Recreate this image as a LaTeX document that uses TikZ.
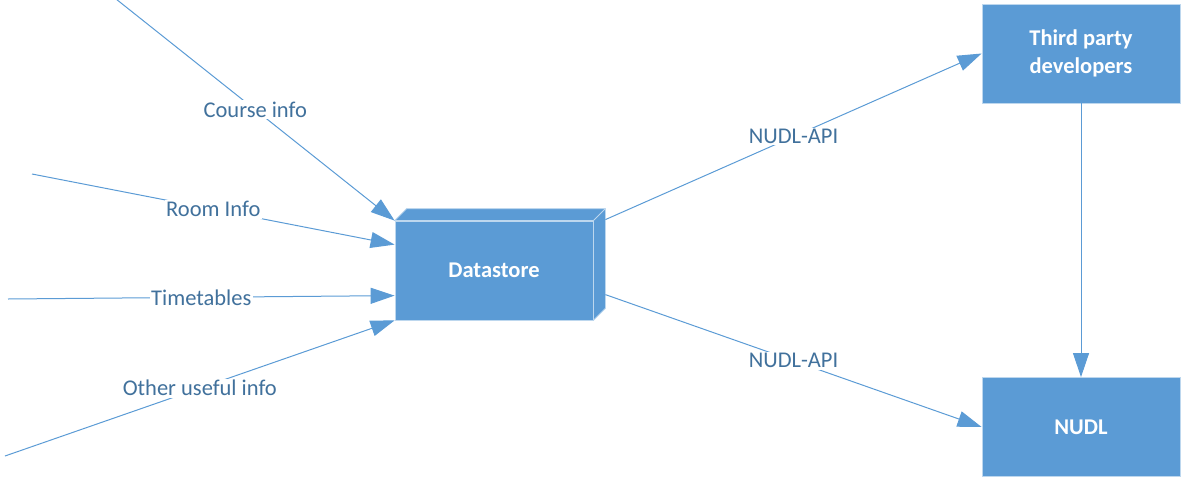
\documentclass[tikz,border=0pt]{standalone}
\usepackage{fontspec}
\setmainfont{Carlito}
\usetikzlibrary{arrows.meta,calc}
\definecolor{boxblue}{RGB}{91,155,213}
\definecolor{edgeblue}{RGB}{189,215,238}
\definecolor{lineblue}{RGB}{91,155,213}
\definecolor{txtblue}{RGB}{65,113,156}
\begin{document}
\begin{tikzpicture}[x=1pt,y=-1pt,
  box/.style={fill=boxblue,draw=edgeblue,line width=0.8pt,text=white,
    font=\fontsize{22.5}{28}\selectfont\bfseries,align=center,
    minimum width=198pt,minimum height=99pt,inner sep=0pt},
  flow/.style={draw=lineblue,line width=1pt,-{Triangle[length=24pt,width=16pt]}},
  lbl/.style={fill=white,text=txtblue,font=\fontsize{22.5}{26}\selectfont,inner sep=1.5pt,midway}]
\useasboundingbox (0,0) rectangle (1185,479);
% nodes
\node[box] (tp) at (1081,53.5) {Third party\\developers};
\node[box] (nudl) at (1081,427) {NUDL};
\node[box] (ds) at (494,270.5) {Datastore};
\draw[fill=boxblue,draw=edgeblue,line width=0.8pt,line join=round]
  (ds.north west) -- ++(12,-12) -- ($(ds.north east)+(12,-12)$) -- ($(ds.south east)+(12,-12)$)
  -- (ds.south east) -- (ds.north east) -- cycle;
\draw[edgeblue,line width=0.8pt] (ds.north east) -- ++(12,-12);
% free ends
\coordinate (s1) at (116,-1);
\coordinate (s2) at (32,174);
\coordinate (s3) at (8,299);
\coordinate (s4) at (5,456);
\coordinate (e2) at ($(ds.north west)+(0,24)$);
\coordinate (e3) at ($(ds.north west)+(0,75)$);
\coordinate (o1) at ($(ds.north east)+(12,-1)$);
\coordinate (o2) at ($(ds.north east)+(12,74)$);
% connectors
\draw[flow] (s1) -- node[lbl]{Course info} (ds.north west);
\draw[flow] (s2) -- node[lbl]{Room Info} (e2);
\draw[flow] (s3) -- node[lbl]{Timetables} (e3);
\draw[flow] (s4) -- node[lbl]{Other useful info} (ds.south west);
\draw[flow] (o1) -- node[lbl]{NUDL-API} (tp.west);
\draw[flow] (o2) -- node[lbl]{NUDL-API} (nudl.west);
\draw[flow] (tp.south) -- (nudl.north);
\end{tikzpicture}
\end{document}
